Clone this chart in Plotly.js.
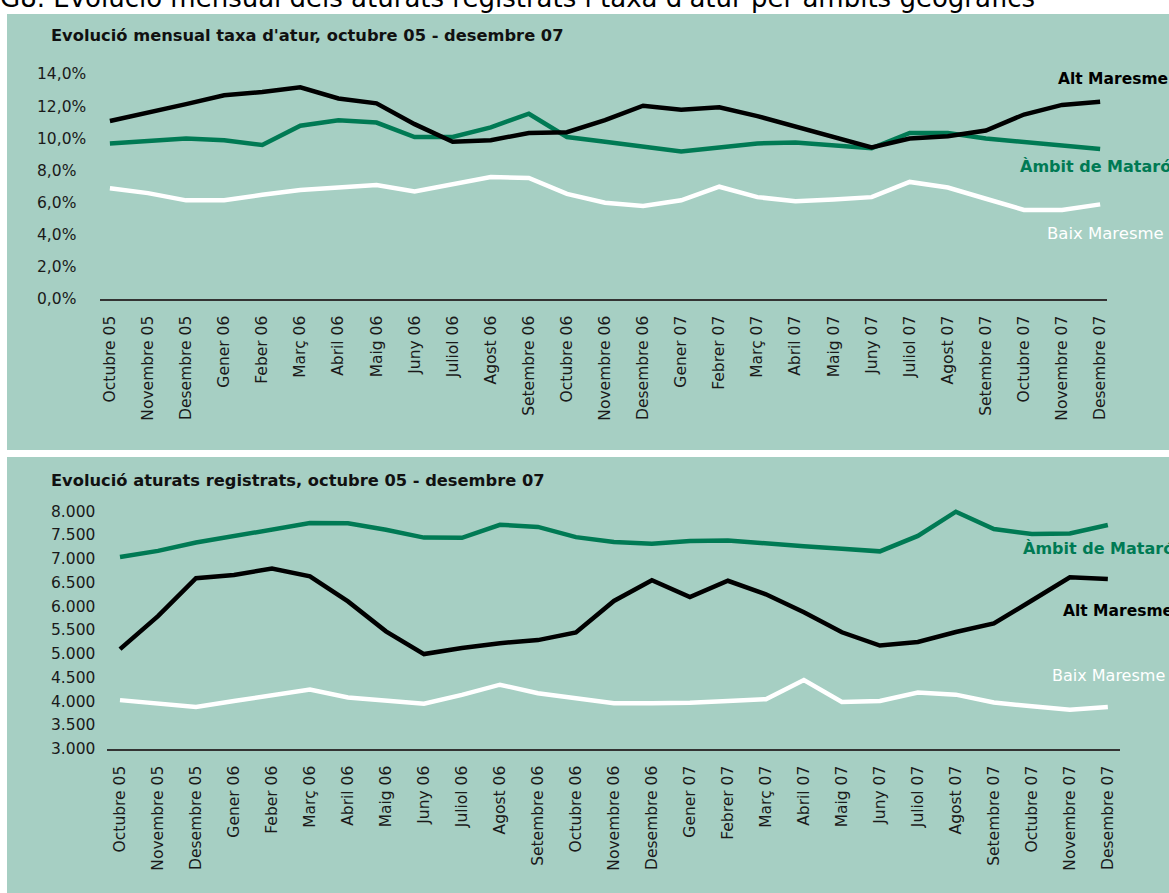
<!DOCTYPE html>
<html>
<head>
<meta charset="utf-8">
<script src="https://cdn.plot.ly/plotly-3.0.1.min.js"></script>
<style>html,body{margin:0;padding:0;background:#fff;}#chart{width:1169px;height:893px;}</style>
</head>
<body>
<div id="chart"></div>
<script>
const months = ['Octubre 05','Novembre 05','Desembre 05','Gener 06','Feber 06','Març 06','Abril 06','Maig 06','Juny 06','Juliol 06','Agost 06','Setembre 06','Octubre 06','Novembre 06','Desembre 06','Gener 07','Febrer 07','Març 07','Abril 07','Maig 07','Juny 07','Juliol 07','Agost 07','Setembre 07','Octubre 07','Novembre 07','Desembre 07'];

// Taxa d'atur (%)
const altTaxa  = [11.1, 11.6, 12.15, 12.7, 12.9, 13.2, 12.5, 12.2, 10.9, 9.8, 9.9, 10.35, 10.4, 11.15, 12.05, 11.8, 11.95, 11.4, 10.75, 10.05, 9.45, 10.0, 10.15, 10.5, 11.5, 12.1, 12.3];
const matTaxa  = [9.7, 9.85, 10.0, 9.9, 9.6, 10.8, 11.15, 11.0, 10.1, 10.1, 10.7, 11.55, 10.1, 9.8, 9.5, 9.2, 9.45, 9.7, 9.75, 9.6, 9.4, 10.35, 10.35, 10.0, 9.8, 9.55, 9.35];
const baixTaxa = [6.9, 6.6, 6.15, 6.15, 6.5, 6.8, 6.95, 7.1, 6.7, 7.15, 7.6, 7.55, 6.55, 6.0, 5.8, 6.15, 7.0, 6.35, 6.1, 6.2, 6.35, 7.3, 6.95, 6.25, 5.55, 5.55, 5.9];

// Aturats registrats
const matAtur  = [7045, 7175, 7350, 7485, 7625, 7760, 7755, 7620, 7455, 7450, 7725, 7680, 7465, 7360, 7325, 7385, 7395, 7325, 7270, 7220, 7165, 7490, 8000, 7635, 7530, 7540, 7720];
const altAtur  = [5105, 5800, 6600, 6665, 6805, 6640, 6110, 5480, 5000, 5130, 5230, 5295, 5455, 6120, 6555, 6200, 6545, 6260, 5880, 5460, 5180, 5255, 5465, 5645, 6130, 6620, 6580];
const baixAtur = [4030, 3960, 3885, 4010, 4130, 4255, 4085, 4010, 3955, 4140, 4355, 4175, 4075, 3965, 3965, 3975, 4010, 4050, 4455, 3990, 4010, 4190, 4145, 3980, 3900, 3825, 3885];

const topTickVals = [0, 2, 4, 6, 8, 10, 12, 14];
const topTickText = ['0,0%', '2,0%', '4,0%', '6,0%', '8,0%', '10,0%', '12,0%', '14,0%'];
const botTickVals = [3000, 3500, 4000, 4500, 5000, 5500, 6000, 6500, 7000, 7500, 8000];
const botTickText = ['3.000', '3.500', '4.000', '4.500', '5.000', '5.500', '6.000', '6.500', '7.000', '7.500', '8.000'];

const mainTitle = "G8. Evolució mensual dels aturats registrats i taxa d'atur per àmbits geogràfics";
const topSubtitle = "Evolució mensual taxa d'atur, octubre 05 - desembre 07";
const botSubtitle = "Evolució aturats registrats, octubre 05 - desembre 07";
const seriesNames = ['Alt Maresme', 'Àmbit de Mataró', 'Baix Maresme'];

const W = 1169, H = 893;
const px = v => v / W;
const py = v => 1 - v / H;

const BG = '#a6cfc3';
const GREEN = '#007a54';
const FONT = 'DejaVu Sans';

function line(x, y, color, xa, ya, name) {
  return {x: x, y: y, type: 'scatter', mode: 'lines', name: name, xaxis: xa, yaxis: ya,
          line: {color: color, width: 4.5}, hoverinfo: 'skip'};
}

const data = [
  line(months, matTaxa, GREEN, 'x', 'y', seriesNames[1]),
  line(months, baixTaxa, '#ffffff', 'x', 'y', seriesNames[2]),
  line(months, altTaxa, '#000000', 'x', 'y', seriesNames[0]),
  line(months, matAtur, GREEN, 'x2', 'y2', seriesNames[1]),
  line(months, baixAtur, '#ffffff', 'x2', 'y2', seriesNames[2]),
  line(months, altAtur, '#000000', 'x2', 'y2', seriesNames[0])
];

const xCommon = {
  type: 'category', tickangle: -90, showline: true, linecolor: '#333', linewidth: 1.5,
  showgrid: false, zeroline: false, ticks: 'outside', ticklen: 9, tickcolor: 'rgba(0,0,0,0)',
  tickfont: {family: FONT, size: 15.5, color: '#1a1a1a'}, fixedrange: true
};

const annotations = [];
topTickVals.forEach((v, i) => annotations.push({
  xref: 'paper', yref: 'y', x: px(35), y: v, xanchor: 'left', yanchor: 'middle',
  text: topTickText[i], showarrow: false, font: {family: FONT, size: 15.5, color: '#1a1a1a'}
}));
botTickVals.forEach((v, i) => annotations.push({
  xref: 'paper', yref: 'y2', x: px(49), y: v, xanchor: 'left', yanchor: 'middle',
  text: botTickText[i], showarrow: false, font: {family: FONT, size: 15.5, color: '#1a1a1a'}
}));
annotations.push(
  {xref: 'paper', yref: 'paper', x: px(-2), y: py(15), xanchor: 'left', yanchor: 'bottom', text: mainTitle,
   showarrow: false, font: {family: FONT, size: 26, color: '#000'}},
  {xref: 'paper', yref: 'paper', x: px(49), y: py(36), xanchor: 'left', yanchor: 'middle', text: '<b>' + topSubtitle + '</b>',
   showarrow: false, font: {family: FONT, size: 16.3, color: '#111'}},
  {xref: 'paper', yref: 'paper', x: px(49), y: py(481), xanchor: 'left', yanchor: 'middle', text: '<b>' + botSubtitle + '</b>',
   showarrow: false, font: {family: FONT, size: 16.3, color: '#111'}},
  {xref: 'paper', yref: 'paper', x: px(1056), y: py(79), xanchor: 'left', yanchor: 'middle', text: '<b>' + seriesNames[0] + '</b>',
   showarrow: false, font: {family: FONT, size: 15.5, color: '#000'}},
  {xref: 'paper', yref: 'paper', x: px(1018), y: py(166), xanchor: 'left', yanchor: 'middle', text: '<b>' + seriesNames[1] + '</b>',
   showarrow: false, font: {family: FONT, size: 16, color: GREEN}},
  {xref: 'paper', yref: 'paper', x: px(1045), y: py(233), xanchor: 'left', yanchor: 'middle', text: seriesNames[2],
   showarrow: false, font: {family: FONT, size: 16.5, color: '#fff'}},
  {xref: 'paper', yref: 'paper', x: px(1021), y: py(548), xanchor: 'left', yanchor: 'middle', text: '<b>' + seriesNames[1] + '</b>',
   showarrow: false, font: {family: FONT, size: 16, color: GREEN}},
  {xref: 'paper', yref: 'paper', x: px(1061), y: py(611), xanchor: 'left', yanchor: 'middle', text: '<b>' + seriesNames[0] + '</b>',
   showarrow: false, font: {family: FONT, size: 15.5, color: '#000'}},
  {xref: 'paper', yref: 'paper', x: px(1050), y: py(675), xanchor: 'left', yanchor: 'middle', text: seriesNames[2],
   showarrow: false, font: {family: FONT, size: 16, color: '#fff'}}
);

const layout = {
  width: W, height: H,
  margin: {l: 0, r: 0, t: 0, b: 0, pad: 0},
  paper_bgcolor: '#ffffff', plot_bgcolor: 'rgba(0,0,0,0)',
  showlegend: false,
  xaxis: Object.assign({}, xCommon, {domain: [px(100), px(1107)], anchor: 'y', range: [-0.26, 26.18]}),
  yaxis: {domain: [py(299), py(60)], range: [0, 14.9], showticklabels: false, showgrid: false, zeroline: false, showline: false, fixedrange: true},
  xaxis2: Object.assign({}, xCommon, {domain: [px(107), px(1120)], anchor: 'y2', range: [-0.342, 26.32]}),
  yaxis2: {domain: [py(749), py(500)], range: [3000, 8247], showticklabels: false, showgrid: false, zeroline: false, showline: false, fixedrange: true},
  shapes: [
    {type: 'rect', xref: 'paper', yref: 'paper', x0: px(7), x1: 1.02, y0: py(450), y1: py(14), fillcolor: BG, line: {width: 0}, layer: 'below'},
    {type: 'rect', xref: 'paper', yref: 'paper', x0: px(7), x1: 1.02, y0: -0.02, y1: py(457), fillcolor: BG, line: {width: 0}, layer: 'below'}
  ],
  annotations: annotations
};

Plotly.newPlot('chart', data, layout, {displayModeBar: false, staticPlot: true});
</script>
</body>
</html>
